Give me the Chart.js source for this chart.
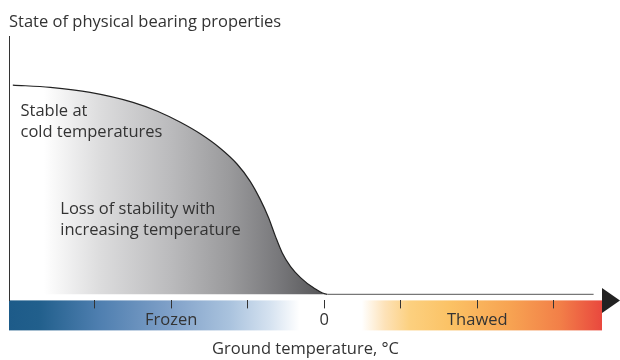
<!DOCTYPE html>
<html>
<head>
<meta charset="utf-8">
<script src="https://cdn.jsdelivr.net/npm/chart.js@4"></script>
<style>
  html, body { margin: 0; padding: 0; background: #fff; }
  #wrap { width: 620px; height: 360px; }
</style>
</head>
<body>
<div id="wrap"><canvas id="myChart"></canvas></div>
<script>
// curve (x: ground temperature units, y: bearing state)
const temps = [-4.07, -3.58, -3.06, -2.50, -2.18, -1.88, -1.62, -1.36, -1.14, -0.97, -0.84, -0.73, -0.64, -0.55, -0.44, -0.31, -0.14, 0.04, 0.6, 3.52];
const bearing = [7.98, 7.89, 7.70, 7.32, 6.98, 6.56, 6.12, 5.57, 4.97, 4.32, 3.64, 2.94, 2.23, 1.59, 1.06, 0.64, 0.25, 0, 0, 0];
const tickValues = [-3, -2, -1, 0, 1, 2, 3];
const tickLabels = ['', 'Frozen', '', '0', '', 'Thawed', ''];
const noteLines = ['Stable at', 'cold temperatures', 'Loss of stability with', 'increasing temperature'];
const noteX = [-3.97, -3.97, -3.45, -3.45];
const noteY = [6.98, 6.18, 3.26, 2.44];

const FONT = '"Open Sans", sans-serif';
const SIZE = 16.5;
const TEXT = '#333';

const greyFill = ctx => {
    const chart = ctx.chart;
    if (!chart.chartArea) return '#999';
    const x = chart.scales.x;
    const g = chart.ctx.createLinearGradient(x.left, 0, x.getPixelForValue(0), 0);
    g.addColorStop(0, '#ffffff');
    g.addColorStop(0.11, '#ffffff');
    g.addColorStop(0.29, '#dcdcdd');
    g.addColorStop(0.51, '#bbbbbd');
    g.addColorStop(0.70, '#9a9a9c');
    g.addColorStop(0.86, '#77777a');
    g.addColorStop(1, '#555557');
    return g;
};

// colour band under the axis and the arrow head
const band = {
    id: 'band',
    beforeDraw(chart) {
        const { ctx, chartArea: a } = chart;
        const g = ctx.createLinearGradient(a.left, 0, a.right, 0);
        [[0, '#1d5b89'], [0.05, '#215f8c'], [0.153, '#4f7fb0'], [0.27, '#7fa0c8'], [0.373, '#aac3de'],
         [0.44, '#d5e2f0'], [0.49, '#ffffff'], [0.595, '#ffffff'], [0.634, '#fde2b8'], [0.676, '#fcd07f'],
         [0.744, '#fbc265'], [0.845, '#f7a352'], [0.929, '#f27f48'], [1, '#e9483e']]
            .forEach(s => g.addColorStop(s[0], s[1]));
        ctx.save();
        ctx.fillStyle = g;
        ctx.fillRect(a.left, a.bottom, a.right - a.left, 30);
        ctx.restore();
    },
    afterDraw(chart) {
        const { ctx, chartArea: a } = chart;
        ctx.save();
        ctx.fillStyle = '#222';
        ctx.beginPath();
        ctx.moveTo(a.right, a.bottom - 12.5);
        ctx.lineTo(a.right + 18, a.bottom);
        ctx.lineTo(a.right, a.bottom + 12.5);
        ctx.closePath();
        ctx.fill();
        ctx.restore();
    }
};

const notes = {
    id: 'notes',
    afterDatasetsDraw(chart) {
        const { ctx, scales } = chart;
        ctx.save();
        ctx.font = SIZE + 'px ' + FONT;
        ctx.fillStyle = TEXT;
        ctx.textBaseline = 'middle';
        noteLines.forEach((t, i) => {
            ctx.fillText(t, scales.x.getPixelForValue(noteX[i]), scales.y.getPixelForValue(noteY[i]));
        });
        ctx.restore();
    }
};

new Chart(document.getElementById('myChart'), {
    type: 'line',
    data: {
        datasets: [{
            data: temps.map((t, i) => ({ x: t, y: bearing[i] })),
            borderColor: '#222',
            borderWidth: 1.2,
            segment: { borderColor: c => c.p0.parsed.x >= 0 ? '#777' : '#222' },
            backgroundColor: greyFill,
            fill: 'origin',
            pointRadius: 0,
            cubicInterpolationMode: 'monotone'
        }]
    },
    options: {
        responsive: true,
        maintainAspectRatio: false,
        animation: false,
        layout: { padding: { left: 9, right: 18, top: 0, bottom: 0 } },
        plugins: {
            legend: { display: false },
            tooltip: { enabled: false },
            title: {
                display: true,
                text: 'State of physical bearing properties',
                align: 'start',
                color: TEXT,
                font: { family: FONT, size: SIZE, weight: 'normal' },
                padding: { top: 12, bottom: 5 }
            }
        },
        scales: {
            x: {
                type: 'linear',
                min: -4.12,
                max: 3.63,
                afterBuildTicks: s => { s.ticks = tickValues.map(v => ({ value: v })); },
                ticks: {
                    autoSkip: false,
                    maxRotation: 0,
                    padding: 2,
                    color: TEXT,
                    font: { family: FONT, size: SIZE },
                    callback: (v, i) => tickLabels[i]
                },
                grid: { drawOnChartArea: false, drawTicks: true, tickLength: 8, color: '#333' },
                border: { display: false },
                title: {
                    display: true,
                    text: 'Ground temperature, °C',
                    color: TEXT,
                    font: { family: FONT, size: SIZE },
                    padding: { top: 7, bottom: 1 }
                }
            },
            y: {
                min: -0.23,
                max: 9.82,
                ticks: { display: false },
                grid: { display: false },
                border: { display: true, color: '#333', width: 1 },
                afterFit: s => { s.width = 0; }
            }
        }
    },
    plugins: [band, notes]
});
</script>
</body>
</html>
